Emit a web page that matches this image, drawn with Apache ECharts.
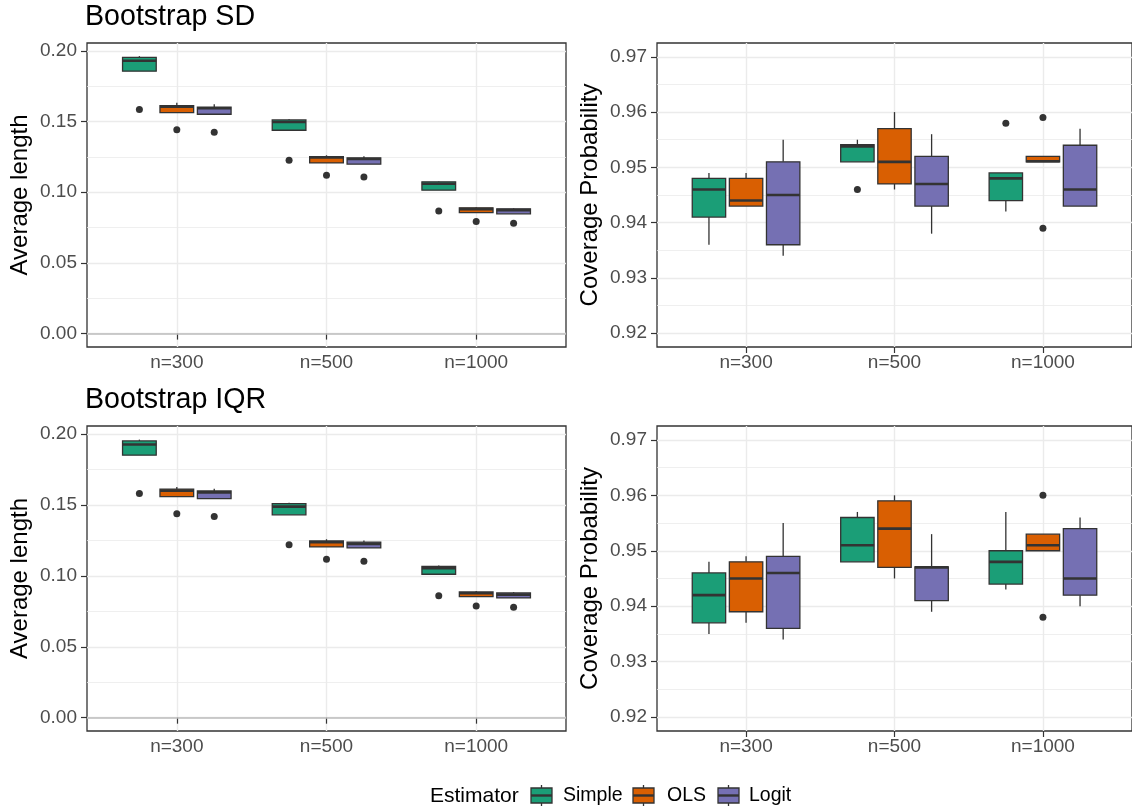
<!DOCTYPE html>
<html>
<head>
<meta charset="utf-8">
<script src="https://cdn.jsdelivr.net/npm/echarts@6/dist/echarts.min.js"></script>
<style>
html,body{margin:0;padding:0;background:#fff;}
#chart{width:1132px;height:810px;}
</style>
</head>
<body>
<div id="chart"></div>
<script>
// ---------------- DATA ----------------
const categories = ['n=300', 'n=500', 'n=1000'];
const estimators = ['Simple', 'OLS', 'Logit'];
const panelTitles = ['Bootstrap SD', 'Bootstrap IQR'];
const lengthTicks = [0, 0.05, 0.10, 0.15, 0.20];
const lengthMinor = [0.025, 0.075, 0.125, 0.175];
const coverTicks = [0.92, 0.93, 0.94, 0.95, 0.96, 0.97];
const coverMinor = [0.925, 0.935, 0.945, 0.955, 0.965];

// box stats per n: [lower whisker, Q1, median, Q3, upper whisker]
// Bootstrap SD - Average length
const sdLenSimple = [[0.1856, 0.1856, 0.1929, 0.1953, 0.1962], [0.1438, 0.1438, 0.1496, 0.1511, 0.1516], [0.1014, 0.1014, 0.1060, 0.1073, 0.1078]];
const sdLenOLS    = [[0.1562, 0.1562, 0.1605, 0.1612, 0.1633], [0.1207, 0.1207, 0.1245, 0.1252, 0.1261], [0.0856, 0.0856, 0.0880, 0.0889, 0.0896]];
const sdLenLogit  = [[0.1551, 0.1551, 0.1593, 0.1602, 0.1621], [0.1198, 0.1198, 0.1235, 0.1242, 0.1254], [0.0847, 0.0847, 0.0873, 0.0882, 0.0887]];
// outliers: [n index, value]
const sdLenSimpleOut = [[0, 0.1584], [1, 0.1226], [2, 0.0866]];
const sdLenOLSOut    = [[0, 0.1442], [1, 0.1120], [2, 0.0793]];
const sdLenLogitOut  = [[0, 0.1424], [1, 0.1108], [2, 0.0781]];

// Bootstrap SD - Coverage probability
const sdCovSimple = [[0.936, 0.941, 0.946, 0.948, 0.949], [0.951, 0.951, 0.9538, 0.9541, 0.955], [0.942, 0.944, 0.948, 0.949, 0.949]];
const sdCovOLS    = [[0.943, 0.943, 0.944, 0.948, 0.949], [0.946, 0.947, 0.951, 0.957, 0.960], [0.951, 0.951, 0.9511, 0.952, 0.952]];
const sdCovLogit  = [[0.934, 0.936, 0.945, 0.951, 0.955], [0.938, 0.943, 0.947, 0.952, 0.956], [0.943, 0.943, 0.946, 0.954, 0.957]];
const sdCovSimpleOut = [[1, 0.946], [2, 0.958]];
const sdCovOLSOut    = [[2, 0.959], [2, 0.939]];
const sdCovLogitOut  = [];

// Bootstrap IQR - Average length
const iqrLenSimple = [[0.1852, 0.1852, 0.1927, 0.1953, 0.1962], [0.1431, 0.1431, 0.1489, 0.1511, 0.1516], [0.1012, 0.1012, 0.1054, 0.1068, 0.1073]];
const iqrLenOLS    = [[0.1560, 0.1560, 0.1602, 0.1612, 0.1628], [0.1205, 0.1205, 0.1238, 0.1247, 0.1259], [0.0854, 0.0854, 0.0878, 0.0887, 0.0894]];
const iqrLenLogit  = [[0.1546, 0.1546, 0.1590, 0.1600, 0.1616], [0.1198, 0.1198, 0.1226, 0.1238, 0.1250], [0.0845, 0.0845, 0.0868, 0.0880, 0.0886]];
const iqrLenSimpleOut = [[0, 0.1581], [1, 0.1221], [2, 0.0861]];
const iqrLenOLSOut    = [[0, 0.1438], [1, 0.1118], [2, 0.0788]];
const iqrLenLogitOut  = [[0, 0.1419], [1, 0.1104], [2, 0.0779]];

// Bootstrap IQR - Coverage probability
const iqrCovSimple = [[0.935, 0.937, 0.942, 0.946, 0.948], [0.948, 0.948, 0.951, 0.956, 0.957], [0.943, 0.944, 0.948, 0.950, 0.957]];
const iqrCovOLS    = [[0.937, 0.939, 0.945, 0.948, 0.949], [0.945, 0.947, 0.954, 0.959, 0.960], [0.950, 0.950, 0.951, 0.953, 0.953]];
const iqrCovLogit  = [[0.934, 0.936, 0.946, 0.949, 0.955], [0.939, 0.941, 0.947, 0.9471, 0.953], [0.940, 0.942, 0.945, 0.954, 0.956]];
const iqrCovSimpleOut = [];
const iqrCovOLSOut    = [[2, 0.960], [2, 0.938]];
const iqrCovLogitOut  = [];

// ---------------- STYLE / LAYOUT ----------------
const colors = ['#1B9E77', '#D95F02', '#7570B3'];
const FONT = '"Liberation Sans", Arial, Helvetica, sans-serif';
const DARK = '#333333';
const GRIDC = '#ebebeb';
const dodge = [-0.25, 0, 0.25];
const BOX_W = 0.225;

const panels = [
  { grid: { left: 87, top: 43, width: 479, height: 304 }, min: -0.0095, max: 0.2055, ticks: lengthTicks, minor: lengthMinor, name: 'Average length', zero: true,
    boxes: [sdLenSimple, sdLenOLS, sdLenLogit], outs: [sdLenSimpleOut, sdLenOLSOut, sdLenLogitOut] },
  { grid: { left: 657, top: 43, width: 479, height: 304 }, min: 0.9175, max: 0.9725, ticks: coverTicks, minor: coverMinor, name: 'Coverage Probability', zero: false,
    boxes: [sdCovSimple, sdCovOLS, sdCovLogit], outs: [sdCovSimpleOut, sdCovOLSOut, sdCovLogitOut] },
  { grid: { left: 87, top: 426, width: 479, height: 305 }, min: -0.0094, max: 0.2058, ticks: lengthTicks, minor: lengthMinor, name: 'Average length', zero: true,
    boxes: [iqrLenSimple, iqrLenOLS, iqrLenLogit], outs: [iqrLenSimpleOut, iqrLenOLSOut, iqrLenLogitOut] },
  { grid: { left: 657, top: 426, width: 479, height: 305 }, min: 0.9175, max: 0.9725, ticks: coverTicks, minor: coverMinor, name: 'Coverage Probability', zero: false,
    boxes: [iqrCovSimple, iqrCovOLS, iqrCovLogit], outs: [iqrCovSimpleOut, iqrCovOLSOut, iqrCovLogitOut] }
];

function makeRender(color) {
  return function (params, api) {
    const x = api.value(0);
    const lo = api.value(1), q1 = api.value(2), med = api.value(3), q3 = api.value(4), hi = api.value(5);
    const h = BOX_W / 2;
    const tl = api.coord([x - h, q3]);
    const br = api.coord([x + h, q1]);
    const mL = api.coord([x - h, med]);
    const mR = api.coord([x + h, med]);
    const pHi = api.coord([x, hi]);
    const pQ3 = api.coord([x, q3]);
    const pQ1 = api.coord([x, q1]);
    const pLo = api.coord([x, lo]);
    const lw = 1.3;
    return {
      type: 'group',
      children: [
        { type: 'line', shape: { x1: pHi[0], y1: pHi[1], x2: pQ3[0], y2: pQ3[1] }, style: { stroke: DARK, lineWidth: lw } },
        { type: 'line', shape: { x1: pQ1[0], y1: pQ1[1], x2: pLo[0], y2: pLo[1] }, style: { stroke: DARK, lineWidth: lw } },
        { type: 'rect', shape: { x: tl[0], y: tl[1], width: br[0] - tl[0], height: br[1] - tl[1] }, style: { fill: color, stroke: DARK, lineWidth: lw } },
        { type: 'line', shape: { x1: mL[0], y1: mL[1], x2: mR[0], y2: mR[1] }, style: { stroke: DARK, lineWidth: 2.6 } }
      ]
    };
  };
}

const grid = [], xAxis = [], yAxis = [], series = [];
panels.forEach((p, i) => {
  grid.push(Object.assign({ show: true, borderColor: DARK, borderWidth: 1.3, backgroundColor: '#fff', containLabel: false }, p.grid));
  xAxis.push({
    gridIndex: i, type: 'value', min: 0.4, max: 3.6,
    axisLine: { show: false },
    axisTick: { show: true, customValues: [1, 2, 3], length: 6, lineStyle: { color: DARK, width: 1.2 } },
    axisLabel: { customValues: [1, 2, 3], formatter: v => categories[Math.round(v) - 1], color: '#4d4d4d', fontSize: 19, fontFamily: FONT, margin: 6 },
    splitLine: { show: true, lineStyle: { color: GRIDC, width: 1.4 } }
  });
  yAxis.push({
    gridIndex: i, type: 'value', min: p.min, max: p.max,
    axisLine: { show: false },
    axisTick: { show: true, customValues: p.ticks, length: 6, lineStyle: { color: DARK, width: 1.2 } },
    axisLabel: { customValues: p.ticks, formatter: v => v.toFixed(2), color: '#4d4d4d', fontSize: 19, fontFamily: FONT, margin: 10 },
    splitLine: { show: true, lineStyle: { color: GRIDC, width: 1.4 } },
    name: p.name, nameLocation: 'middle', nameGap: 55,
    nameTextStyle: { color: '#000', fontSize: 24, fontFamily: FONT }
  });
  yAxis.push({
    gridIndex: i, type: 'value', min: p.min, max: p.max, position: 'left',
    axisLine: { show: false },
    axisTick: { show: false, customValues: p.minor },
    axisLabel: { show: false, customValues: p.minor },
    splitLine: { show: true, lineStyle: { color: GRIDC, width: 0.8 } }
  });
  p.boxes.forEach((stats, e) => {
    series.push({
      type: 'custom', xAxisIndex: i, yAxisIndex: 2 * i, z: 3,
      renderItem: makeRender(colors[e]),
      encode: { x: 0, y: [1, 2, 3, 4, 5] },
      data: stats.map((s, k) => [k + 1 + dodge[e]].concat(s))
    });
  });
  const outData = [];
  p.outs.forEach((arr, e) => arr.forEach(o => outData.push([o[0] + 1 + dodge[e], o[1]])));
  const sc = {
    type: 'scatter', xAxisIndex: i, yAxisIndex: 2 * i, z: 4,
    symbol: 'circle', symbolSize: 7, itemStyle: { color: DARK, opacity: 1 },
    data: outData, silent: true
  };
  if (p.zero) {
    sc.markLine = { silent: true, symbol: 'none', label: { show: false }, animation: false,
      lineStyle: { color: '#bdbdbd', width: 1.7, type: 'solid' }, data: [{ yAxis: 0 }] };
  }
  series.push(sc);
});

// titles and legend as graphic text
const graphic = [
  { type: 'text', left: 85, top: 3, style: { text: panelTitles[0], fontSize: 28.6, fontFamily: FONT, fill: '#000' } },
  { type: 'text', left: 85, top: 386, style: { text: panelTitles[1], fontSize: 28.6, fontFamily: FONT, fill: '#000' } },
  { type: 'text', x: 430, y: 796, style: { text: 'Estimator', fontSize: 21, fontFamily: FONT, fill: '#000', verticalAlign: 'middle', align: 'left' } }
];
const keyX = [531, 633, 718];
const labelX = [563, 667, 749];
estimators.forEach((name, e) => {
  const x0 = keyX[e], w = 21, cx = x0 + w / 2;
  graphic.push(
    { type: 'line', shape: { x1: cx, y1: 785, x2: cx, y2: 788 }, style: { stroke: DARK, lineWidth: 1.3 } },
    { type: 'line', shape: { x1: cx, y1: 803, x2: cx, y2: 806 }, style: { stroke: DARK, lineWidth: 1.3 } },
    { type: 'rect', shape: { x: x0, y: 788, width: w, height: 15 }, style: { fill: colors[e], stroke: DARK, lineWidth: 1.3 } },
    { type: 'line', shape: { x1: x0, y1: 795.5, x2: x0 + w, y2: 795.5 }, style: { stroke: DARK, lineWidth: 2.4 } },
    { type: 'text', x: labelX[e], y: 796, style: { text: name, fontSize: 19.5, fontFamily: FONT, fill: '#000', verticalAlign: 'middle', align: 'left' } }
  );
});

const chart = echarts.init(document.getElementById('chart'), null, { renderer: 'canvas' });
chart.setOption({
  animation: false,
  backgroundColor: '#fff',
  textStyle: { fontFamily: FONT },
  grid, xAxis, yAxis, series, graphic
});
</script>
</body>
</html>
